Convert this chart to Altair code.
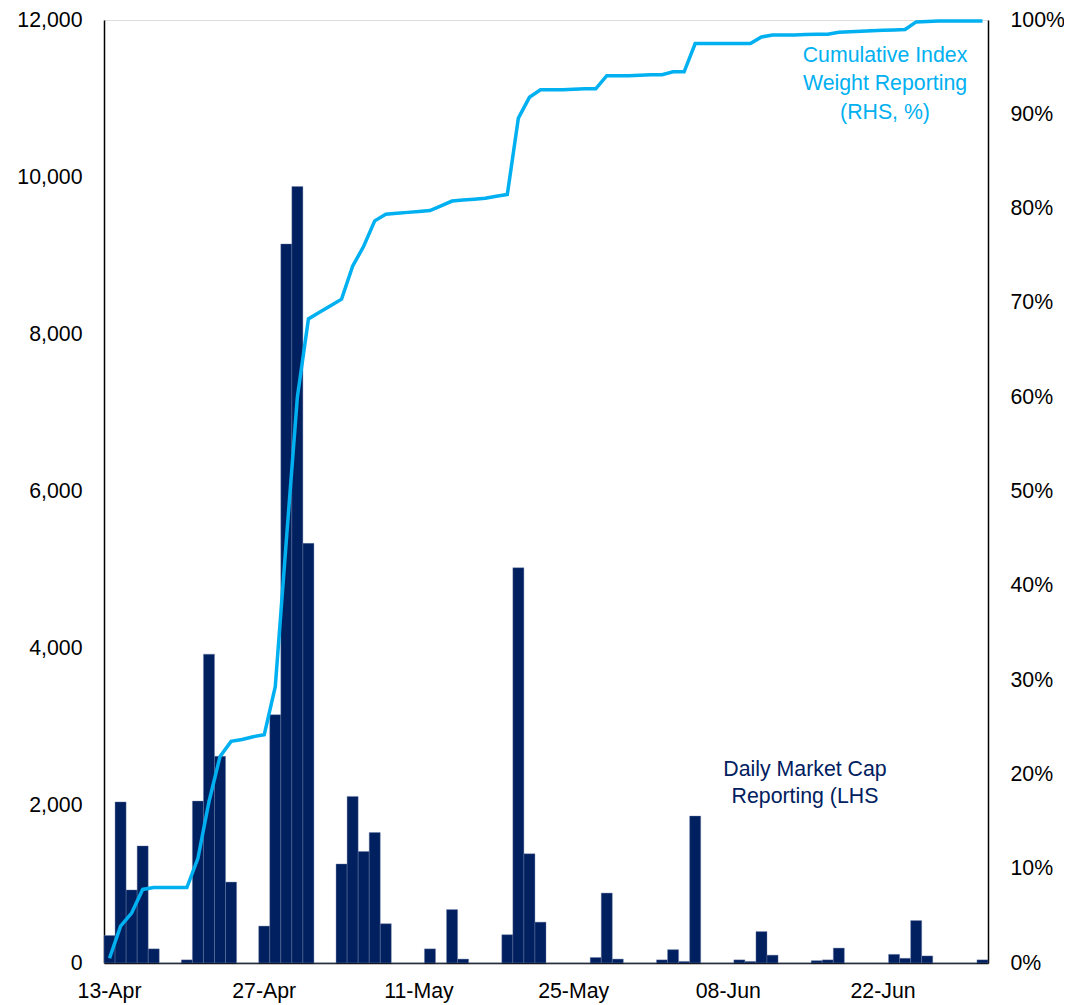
import altair as alt
import pandas as pd

# Daily dates 13-Apr to 01-Jul (2020)
dates = pd.date_range("2020-04-13", "2020-07-01", freq="D").strftime("%d-%b").tolist()

# Daily market cap reporting (LHS)
daily_mcap = [
    350, 2050, 930, 1490, 180, 0, 0,          # 13-19 Apr
    40, 2060, 3930, 2630, 1030, 0, 0,         # 20-26 Apr
    470, 3160, 9150, 9880, 5340, 0, 0,        # 27 Apr-03 May
    1260, 2120, 1420, 1660, 500, 0, 0,        # 04-10 May
    0, 180, 0, 680, 50, 0, 0,                 # 11-17 May
    0, 360, 5030, 1390, 520, 0, 0,            # 18-24 May
    0, 0, 70, 890, 50, 0, 0,                  # 25-31 May
    0, 40, 170, 20, 1870, 0, 0,               # 01-07 Jun
    0, 40, 20, 400, 100, 0, 0,                # 08-14 Jun
    0, 30, 40, 190, 0, 0, 0,                  # 15-21 Jun
    0, 110, 60, 540, 90, 0, 0,                # 22-28 Jun
    0, 0, 40,                                 # 29 Jun-01 Jul
]

# Cumulative index weight reporting (RHS, %)
cum_weight = [
    0.5, 3.9, 5.3, 7.8, 8.0, 8.0, 8.0,
    8.0, 11.1, 17.1, 21.9, 23.5, 23.7, 24.0,
    24.2, 29.3, 44.8, 60.0, 68.3, 69.0, 69.7,
    70.4, 73.9, 76.0, 78.7, 79.4, 79.5, 79.6,
    79.7, 79.8, 80.3, 80.8, 80.9, 81.0, 81.1,
    81.3, 81.5, 89.6, 91.8, 92.6, 92.6, 92.6,
    92.65, 92.7, 92.7, 94.1, 94.1, 94.1, 94.15,
    94.2, 94.2, 94.5, 94.5, 97.5, 97.5, 97.5,
    97.5, 97.5, 97.5, 98.2, 98.4, 98.4, 98.4,
    98.45, 98.5, 98.5, 98.7, 98.75, 98.8, 98.85,
    98.9, 98.95, 99.0, 99.8, 99.85, 99.9, 99.9,
    99.9, 99.9, 99.9,
]

x_labels = ["13-Apr", "27-Apr", "11-May", "25-May", "08-Jun", "22-Jun"]
left_ticks = [0, 2000, 4000, 6000, 8000, 10000, 12000]
right_ticks = [0, 0.1, 0.2, 0.3, 0.4, 0.5, 0.6, 0.7, 0.8, 0.9, 1.0]

df = pd.DataFrame({
    "date": dates,
    "mcap": daily_mcap,
    "cum": [v / 100 for v in cum_weight],
})

FONT = "Liberation Sans"
FS = 21.3
NAVY = "#002060"
BLUE = "#00B0F0"

x_enc = alt.X(
    "date:O",
    sort=dates,
    scale=alt.Scale(paddingInner=0, paddingOuter=0),
    axis=alt.Axis(
        values=x_labels, title=None, labelAngle=0, ticks=False, tickSize=0,
        labelPadding=17, domainColor="black", domainWidth=1.5,
        labelFont=FONT, labelFontSize=FS, labelColor="black",
    ),
)

bars = alt.Chart(df).mark_bar(color=NAVY, stroke="#6f7fa6", strokeWidth=0.4).encode(
    x=x_enc,
    y=alt.Y(
        "mcap:Q",
        scale=alt.Scale(domain=[0, 12000], nice=False),
        axis=alt.Axis(
            values=left_ticks, format=",.0f", title=None, grid=False, ticks=False,
            tickSize=0, labelPadding=22, domainColor="black", domainWidth=1.5,
            labelFont=FONT, labelFontSize=FS, labelColor="black",
        ),
    ),
)

line = alt.Chart(df).mark_line(color=BLUE, strokeWidth=3.5).encode(
    x=x_enc,
    y=alt.Y(
        "cum:Q",
        scale=alt.Scale(domain=[0, 1], nice=False),
        axis=alt.Axis(
            orient="right", values=right_ticks, format=".0%", title=None,
            grid=False, ticks=False, tickSize=0, labelPadding=22,
            domainColor="black", domainWidth=1.5,
            labelFont=FONT, labelFontSize=FS, labelColor="black",
        ),
    ),
)

one_row = pd.DataFrame({"k": [0]})

def label(text, x, y, color):
    return alt.Chart(one_row).mark_text(
        text=text, font=FONT, fontSize=FS, color=color,
        align="center", baseline="middle",
    ).encode(x=alt.value(x), y=alt.value(y))

annotations = [
    label("Cumulative Index", 781, 36, BLUE),
    label("Weight Reporting", 781, 64, BLUE),
    label("(RHS, %)", 781, 93, BLUE),
    label("Daily Market Cap", 701, 750, NAVY),
    label("Reporting (LHS", 701, 777, NAVY),
]

chart = alt.layer(bars, line).resolve_scale(y="independent")
chart = alt.layer(chart, *annotations).properties(
    width=884,
    height=943,
    autosize=alt.AutoSizeParams(type="none"),
    padding={"left": 96, "top": 12, "right": 76, "bottom": 40},
).configure_view(stroke=None).configure(background="white")

chart.save("out.html", embed_options={"renderer": "svg", "actions": False})
